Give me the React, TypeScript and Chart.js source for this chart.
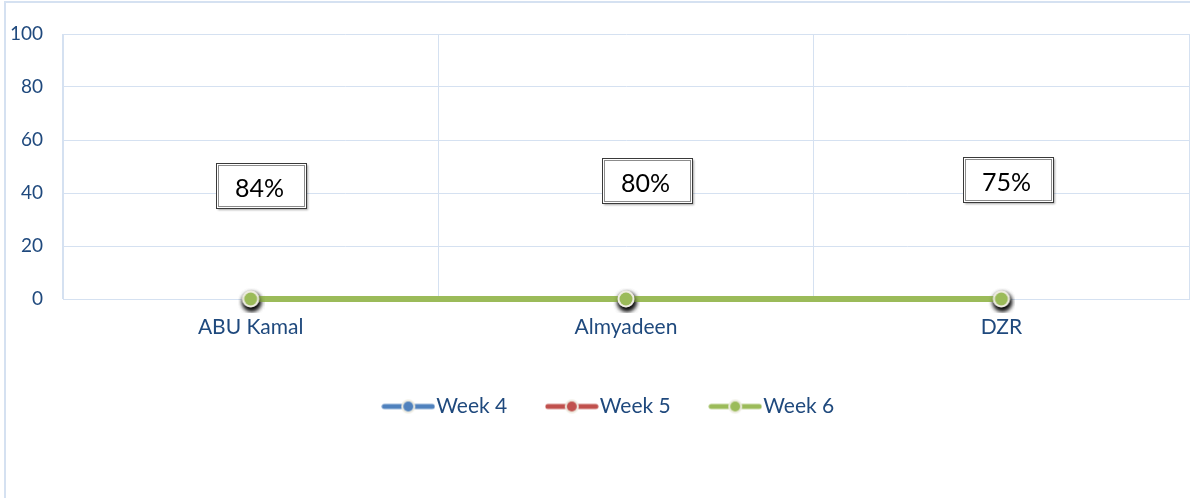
import React, { useEffect, useRef } from "react";
import { Chart, registerables } from "chart.js";

Chart.register(...registerables);

const categories = ["ABU Kamal", "Almyadeen", "DZR"];
const seriesNames = ["Week 4", "Week 5", "Week 6"];
const week4 = [0, 0, 0];
const week5 = [0, 0, 0];
const week6 = [0, 0, 0];
const rates = [84, 80, 75];
const yTicks = [0, 20, 40, 60, 80, 100];

const seriesColors = ["#4F81BD", "#C0504D", "#9BBB59"];
const FONT = "Lato, 'Open Sans', 'Liberation Sans', sans-serif";
const TEXT_COLOR = "#1F497D";
const GRID = "#D5E1F1";

function makePointImage(color: string): HTMLCanvasElement {
  const c = document.createElement("canvas");
  c.width = 28;
  c.height = 28;
  const ctx = c.getContext("2d")!;
  ctx.save();
  ctx.shadowColor = "rgba(0,0,0,0.75)";
  ctx.shadowBlur = 5;
  ctx.shadowOffsetX = 1;
  ctx.shadowOffsetY = 3;
  ctx.beginPath();
  ctx.arc(14, 14, 8.5, 0, Math.PI * 2);
  ctx.fillStyle = "#EEECE1";
  ctx.fill();
  ctx.restore();
  ctx.beginPath();
  ctx.arc(14, 14, 6.5, 0, Math.PI * 2);
  ctx.fillStyle = color;
  ctx.fill();
  return c;
}

function makeLegendImage(color: string): HTMLCanvasElement {
  const c = document.createElement("canvas");
  c.width = 54;
  c.height = 16;
  const ctx = c.getContext("2d")!;
  ctx.strokeStyle = color;
  ctx.lineWidth = 5;
  ctx.lineCap = "round";
  ctx.beginPath();
  ctx.moveTo(3, 8);
  ctx.lineTo(51, 8);
  ctx.stroke();
  ctx.beginPath();
  ctx.arc(27, 8, 7, 0, Math.PI * 2);
  ctx.fillStyle = "#EEECE1";
  ctx.fill();
  ctx.beginPath();
  ctx.arc(27, 8, 5, 0, Math.PI * 2);
  ctx.fillStyle = color;
  ctx.fill();
  return c;
}

const frameAndBoxes = {
  id: "frameAndBoxes",
  afterLayout(chart: any) {
    const lg = chart.legend;
    if (lg) {
      lg.left += 18;
      lg.right += 18;
    }
  },
  beforeDraw(chart: any) {
    const ctx = chart.ctx;
    ctx.save();
    ctx.fillStyle = "#FFFFFF";
    ctx.fillRect(0, 0, chart.width, chart.height);
    ctx.strokeStyle = GRID;
    ctx.lineWidth = 2;
    ctx.beginPath();
    ctx.moveTo(5, chart.height + 5);
    ctx.lineTo(5, 2);
    ctx.lineTo(chart.width + 5, 2);
    ctx.stroke();
    ctx.restore();
  },
  afterDraw(chart: any) {
    const ctx = chart.ctx;
    const xs = chart.scales.x;
    const ys = chart.scales.y;
    const xOff = [10, 21, 7];
    const yVal = [42.8, 44.9, 45.1];
    ctx.save();
    rates.forEach((r, i) => {
      const cx = xs.getPixelForValue(i) + xOff[i];
      const cy = ys.getPixelForValue(yVal[i]);
      const w = 90;
      const h = 45;
      const x0 = Math.round(cx - w / 2) + 0.5;
      const y0 = Math.round(cy - h / 2) + 0.5;
      ctx.save();
      ctx.shadowColor = "rgba(0,0,0,0.35)";
      ctx.shadowBlur = 2;
      ctx.shadowOffsetX = 1;
      ctx.shadowOffsetY = 1;
      ctx.fillStyle = "#FFFFFF";
      ctx.fillRect(x0, y0, w, h);
      ctx.restore();
      ctx.strokeStyle = "#3A3A3A";
      ctx.lineWidth = 1;
      ctx.strokeRect(x0, y0, w, h);
      ctx.strokeStyle = "#8C8C8C";
      ctx.strokeRect(x0 + 2, y0 + 2, w - 4, h - 4);
      ctx.fillStyle = "#000000";
      ctx.font = `25px ${FONT}`;
      ctx.textAlign = "center";
      ctx.textBaseline = "middle";
      ctx.fillText(`${r}%`, x0 + w / 2 - 2, y0 + h / 2 + 3);
    });
    ctx.restore();
  },
};

export default function App() {
  const ref = useRef<HTMLCanvasElement | null>(null);

  useEffect(() => {
    const canvas = ref.current!;
    const pointImgs = seriesColors.map(makePointImage);
    const legendImgs = seriesColors.map(makeLegendImage);
    const values = [week4, week5, week6];
    const chart = new Chart(canvas, {
      type: "line",
      data: {
        labels: categories,
        datasets: seriesNames.map((name, i) => ({
          label: name,
          data: values[i],
          borderColor: seriesColors[i],
          backgroundColor: seriesColors[i],
          borderWidth: 6,
          tension: 0,
          pointStyle: pointImgs[i] as any,
          pointRadius: 8,
          clip: false as any,
          order: 2 - i,
        })),
      },
      options: {
        responsive: false,
        animation: false,
        layout: { autoPadding: false, padding: { top: 34, right: 1, left: 0, bottom: 71 } },
        plugins: {
          tooltip: { enabled: false },
          legend: {
            position: "bottom",
            labels: {
              usePointStyle: true,
              pointStyleWidth: 35,
              padding: 47,
              color: TEXT_COLOR,
              font: { family: FONT, size: 21 },
              generateLabels: () =>
                seriesNames.map((name, i) => ({
                  text: name,
                  pointStyle: legendImgs[i] as any,
                  fillStyle: "transparent",
                  strokeStyle: "transparent",
                  lineWidth: 0,
                  hidden: false,
                  datasetIndex: i,
                  fontColor: TEXT_COLOR,
                })),
            },
          },
        },
        scales: {
          x: {
            type: "category",
            offset: true,
            grid: { offset: true, color: GRID, drawTicks: false },
            border: { color: GRID },
            ticks: {
              padding: 16,
              color: TEXT_COLOR,
              font: { family: FONT, size: 21 },
            },
            afterFit: (s: any) => {
              s.height = 50;
            },
          },
          y: {
            min: 0,
            max: 100,
            afterBuildTicks: (s: any) => {
              s.ticks = yTicks.map((v) => ({ value: v }));
            },
            grid: { color: GRID, drawTicks: false },
            border: { color: GRID },
            ticks: {
              padding: 20,
              color: TEXT_COLOR,
              font: { family: FONT, size: 19 },
            },
            afterFit: (s: any) => {
              s.width = 63;
            },
          },
        },
      },
      plugins: [frameAndBoxes],
    });
    return () => chart.destroy();
  }, []);

  return (
    <div style={{ position: "fixed", left: 0, top: 0, width: 1190, height: 498 }}>
      <canvas ref={ref} width={1190} height={498} style={{ display: "block" }} />
    </div>
  );
}
